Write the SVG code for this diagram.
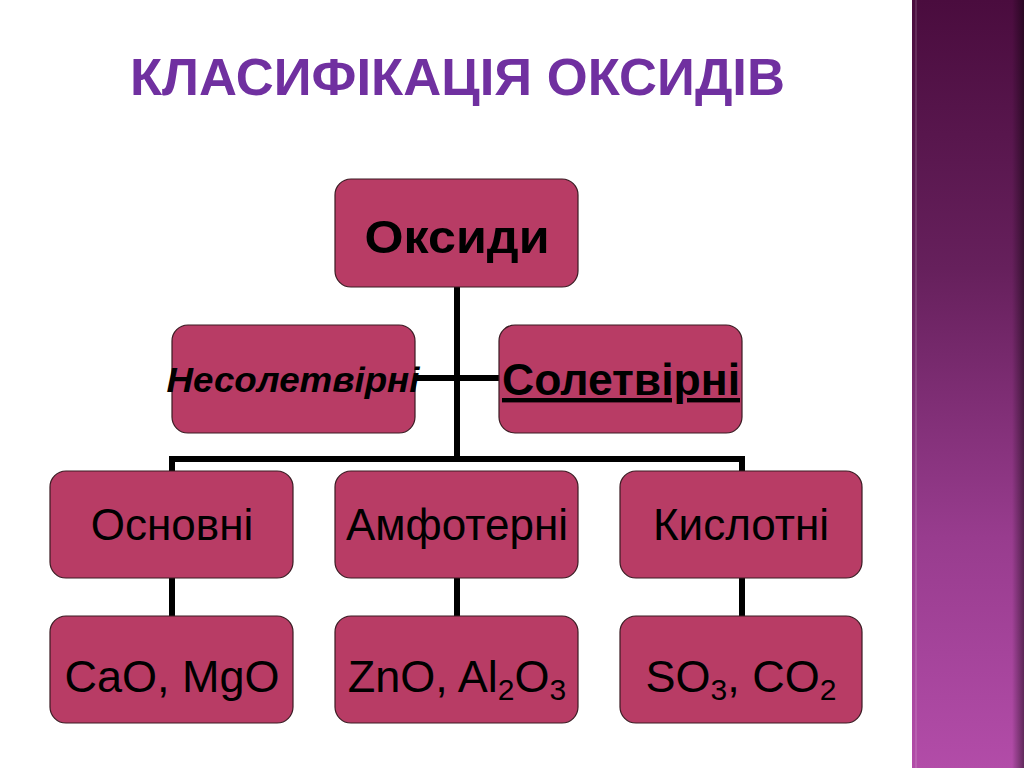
<svg xmlns="http://www.w3.org/2000/svg" width="1024" height="768" viewBox="0 0 1024 768">
<defs>
<linearGradient id="bar" x1="0" y1="0" x2="0" y2="1">
<stop offset="0" stop-color="#4a0c3e"/>
<stop offset="0.35" stop-color="#66205c"/>
<stop offset="0.7" stop-color="#983c8e"/>
<stop offset="1" stop-color="#b24ca8"/>
</linearGradient>
<linearGradient id="edge" x1="0" y1="0" x2="1" y2="0">
<stop offset="0" stop-color="#000" stop-opacity="0"/>
<stop offset="1" stop-color="#000" stop-opacity="0.45"/>
</linearGradient>
<style>
.box{fill:#b83c65;stroke:#3a1a22;stroke-width:1.2}
.conn{stroke:#000;stroke-width:6;fill:none}
.t{font-family:"Liberation Sans",Arial,sans-serif;fill:#000;text-anchor:middle}
.reg{font-size:44px}
.f{font-size:45px}
</style>
</defs>
<rect width="1024" height="768" fill="#fff"/>
<rect x="912" y="0" width="112" height="768" fill="url(#bar)"/>
<rect x="915" y="0" width="2" height="768" fill="#fff" opacity="0.12"/>
<rect x="1012" y="0" width="12" height="768" fill="url(#edge)"/>
<text x="130" y="95" font-family="Liberation Sans,Arial,sans-serif" font-weight="bold" font-size="52" fill="#7030a0" textLength="655" lengthAdjust="spacingAndGlyphs">КЛАСИФІКАЦІЯ ОКСИДІВ</text>
<g id="connectors">
<path class="conn" d="M457 287V462M172 578V459H742V578M415 378H499M172 578V616M457 578V616M742 578V616"/>
</g>
<g id="oksydy"><rect class="box" x="335" y="179" width="243" height="108" rx="16"/><text class="t" x="457" y="253" font-size="46" font-weight="bold" textLength="185" lengthAdjust="spacingAndGlyphs">Оксиди</text></g>
<g id="nesoletvirni"><rect class="box" x="172" y="325" width="243" height="108" rx="16"/><text class="t" x="293" y="392" font-size="35" font-weight="bold" font-style="italic" textLength="253" lengthAdjust="spacingAndGlyphs">Несолетвірні</text></g>
<g id="soletvirni"><rect class="box" x="499" y="325" width="243" height="108" rx="16"/><text class="t" x="621" y="395" font-size="44" font-weight="bold" text-decoration="underline" textLength="238" lengthAdjust="spacingAndGlyphs">Солетвірні</text></g>
<g id="osnovni"><rect class="box" x="50" y="471" width="243" height="107" rx="16"/><text class="t reg" x="172" y="540">Основні</text></g>
<g id="amfoterni"><rect class="box" x="335" y="471" width="243" height="107" rx="16"/><text class="t reg" x="457" y="540">Амфотерні</text></g>
<g id="kyslotni"><rect class="box" x="620" y="471" width="242" height="107" rx="16"/><text class="t reg" x="741" y="540">Кислотні</text></g>
<g id="cao"><rect class="box" x="50" y="616" width="243" height="107" rx="16"/><text class="t f" x="172" y="692">CaO, MgO</text></g>
<g id="zno"><rect class="box" x="335" y="616" width="243" height="107" rx="16"/><text class="t f" x="457" y="692">ZnO, Al<tspan font-size="30" dy="8">2</tspan><tspan dy="-8">O</tspan><tspan font-size="30" dy="8">3</tspan></text></g>
<g id="so3"><rect class="box" x="620" y="616" width="242" height="107" rx="16"/><text class="t f" x="741" y="692">SO<tspan font-size="30" dy="8">3</tspan><tspan dy="-8">, CO</tspan><tspan font-size="30" dy="8">2</tspan></text></g>
</svg>
